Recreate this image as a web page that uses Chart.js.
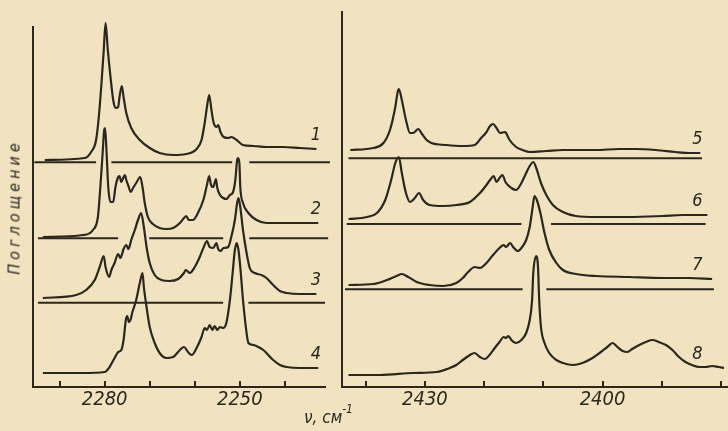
<!DOCTYPE html>
<html>
<head>
<meta charset="utf-8">
<script src="https://cdn.jsdelivr.net/npm/chart.js@4.4.1/dist/chart.umd.min.js"></script>
<style>
  body { margin: 0; background: #f1e3bf; }
  #wrap { position: relative; width: 728px; height: 431px; overflow: hidden; background: #f1e3bf; }
  canvas { position: absolute; top: 0; }
  #left { left: 0; }
  #right { left: 330px; }
  .axtitle { position: absolute; color: #2a2824; font-family: 'DejaVu Sans Condensed', 'Liberation Sans Narrow', 'DejaVu Sans', sans-serif; font-style: italic; white-space: nowrap; }
  #ytitle { left: 14px; top: 207px; font-size: 16px; letter-spacing: 4px; transform: translate(-50%, -50%) rotate(-90deg); }
  #xtitle { left: 304px; top: 405px; font-size: 17px; }
  #xtitle sup { font-size: 12px; position: relative; top: -3px; }
</style>
</head>
<body>
<div id="wrap">
  <canvas id="left" width="340" height="431"></canvas>
  <canvas id="right" width="398" height="431"></canvas>
  <div id="ytitle" class="axtitle">Поглощение</div>
  <div id="xtitle" class="axtitle">ν, см<sup>-1</sup></div>
</div>
<script>
// волновое число (см-1), поглощение (отн. ед., со сдвигом по вертикали)
var spec1 = [[2293.3,227],[2284.4,229],[2283.0,235],[2281.9,247],[2281.3,270],[2280.7,304],[2280.2,337],[2279.8,364],[2279.3,337],[2278.7,310],[2278.1,287],[2277.6,279],[2277.0,280],[2276.7,290],[2276.2,301],[2275.8,290],[2275.2,274],[2274.1,259],[2272.2,247],[2270.0,239],[2267.8,234],[2264.8,232],[2261.9,233],[2259.6,238],[2258.5,247],[2257.8,264],[2257.3,280],[2256.8,292],[2256.3,277],[2255.8,264],[2255.2,260],[2254.8,262],[2254.3,255],[2253.6,250],[2252.6,249],[2251.9,250],[2250.7,247],[2249.3,242],[2247.0,241],[2244.1,240],[2240.4,240],[2236.7,239],[2233.0,238]];
var spec2 = [[2293.7,150],[2284.8,152],[2282.6,157],[2281.5,170],[2281.0,197],[2280.5,230],[2280.1,257],[2279.9,259],[2279.6,237],[2279.2,200],[2278.7,185],[2278.1,185],[2277.6,200],[2277.0,210],[2276.7,211],[2276.3,205],[2275.8,210],[2275.5,212],[2275.2,207],[2274.8,202],[2274.2,195],[2273.7,199],[2273.0,204],[2272.1,210],[2271.6,200],[2271.1,184],[2270.4,170],[2269.3,163],[2267.8,159],[2266.3,158],[2264.8,159],[2263.3,164],[2262.4,169],[2261.9,171],[2261.3,167],[2260.4,167],[2259.3,174],[2258.1,187],[2257.3,202],[2256.8,211],[2256.4,202],[2255.9,200],[2255.3,208],[2255.0,199],[2254.4,192],[2253.7,189],[2253.0,188],[2252.2,192],[2251.5,195],[2251.0,207],[2250.6,227],[2250.4,229],[2250.1,224],[2249.9,200],[2249.3,184],[2248.1,174],[2246.3,167],[2244.1,164],[2240.4,164],[2236.7,164],[2232.6,164]];
var spec3 = [[2293.7,89],[2286.3,92],[2284.1,97],[2282.2,107],[2281.1,120],[2280.2,131],[2279.8,120],[2279.0,110],[2278.5,117],[2277.8,124],[2277.0,133],[2276.5,129],[2275.8,138],[2275.2,142],[2274.7,138],[2274.1,147],[2273.3,157],[2272.6,167],[2271.9,174],[2271.3,160],[2270.7,140],[2270.0,124],[2268.9,112],[2267.4,107],[2265.6,106],[2263.7,108],[2262.4,114],[2262.0,117],[2261.1,114],[2260.0,120],[2258.9,130],[2258.0,140],[2257.3,146],[2256.7,140],[2255.9,139],[2255.2,144],[2254.8,138],[2254.3,136],[2253.6,139],[2252.6,140],[2251.9,150],[2251.1,167],[2250.6,184],[2250.3,189],[2249.9,180],[2249.3,157],[2248.5,134],[2247.8,119],[2246.7,114],[2245.2,112],[2244.1,109],[2242.6,102],[2241.1,96],[2239.6,94],[2236.7,93],[2233.0,93]];
var spec4 = [[2293.7,14],[2284.8,14],[2280.0,15],[2278.9,20],[2277.8,29],[2277.0,35],[2276.3,37],[2275.8,47],[2275.3,67],[2275.0,71],[2274.6,65],[2274.2,68],[2273.9,74],[2273.0,87],[2272.2,104],[2271.6,114],[2271.3,100],[2270.7,80],[2270.0,60],[2268.9,44],[2267.8,34],[2266.3,29],[2264.8,30],[2263.3,37],[2262.4,40],[2261.5,35],[2260.7,32],[2259.6,39],[2258.5,50],[2257.8,59],[2257.3,57],[2256.7,62],[2256.1,57],[2255.6,61],[2255.0,57],[2254.4,60],[2253.7,59],[2253.0,64],[2252.2,87],[2251.6,114],[2251.1,137],[2250.7,144],[2250.3,137],[2249.9,120],[2249.3,87],[2248.5,54],[2248.1,44],[2247.0,42],[2245.9,40],[2244.8,37],[2244.1,34],[2242.6,27],[2241.1,22],[2239.6,20],[2236.7,19],[2232.6,19]];

var spec5 = [[2442.6,237],[2438.7,239],[2437.0,244],[2435.9,257],[2435.0,280],[2434.6,295],[2434.4,298],[2433.9,287],[2433.2,267],[2432.5,254],[2432.0,254],[2431.1,258],[2430.6,254],[2429.7,247],[2428.9,244],[2426.4,242],[2423.6,241],[2421.6,242],[2420.5,249],[2419.6,255],[2419.0,261],[2418.5,263],[2417.9,259],[2417.3,254],[2416.5,255],[2416.3,254],[2415.7,247],[2414.6,240],[2413.5,237],[2412.3,235],[2409.5,236],[2406.7,237],[2401.1,237],[2397.2,238],[2394.4,238],[2391.0,237],[2387.7,235],[2385.4,234],[2383.5,234]];
var spec6 = [[2442.9,168],[2439.8,170],[2438.1,174],[2436.7,187],[2435.7,207],[2435.0,224],[2434.4,230],[2433.9,214],[2433.2,194],[2432.5,185],[2431.7,189],[2431.0,194],[2430.3,187],[2429.2,182],[2426.9,181],[2424.7,182],[2422.4,185],[2420.7,194],[2419.6,202],[2419.0,207],[2418.4,211],[2417.9,205],[2417.4,209],[2416.9,212],[2416.4,205],[2415.4,199],[2414.6,197],[2413.7,204],[2412.9,214],[2412.2,222],[2411.7,225],[2411.2,219],[2410.4,204],[2409.5,192],[2408.4,182],[2406.7,175],[2404.5,171],[2401.1,170],[2395.5,170],[2389.9,171],[2386.5,172],[2382.3,172]];
var spec7 = [[2442.9,102],[2438.7,103],[2436.4,107],[2434.8,111],[2433.9,113],[2432.8,110],[2431.4,105],[2429.2,102],[2426.9,101],[2424.7,104],[2423.6,109],[2422.7,115],[2421.6,120],[2420.7,119],[2419.6,124],[2418.5,132],[2417.4,139],[2416.7,142],[2416.3,140],[2415.6,144],[2415.1,140],[2414.3,136],[2413.7,139],[2412.9,147],[2412.3,160],[2411.8,180],[2411.5,191],[2411.1,187],[2410.5,174],[2409.8,154],[2409.0,137],[2407.8,124],[2406.7,117],[2404.5,113],[2401.1,111],[2395.5,110],[2389.9,109],[2385.4,109],[2381.5,108]];
var spec8 = [[2442.9,12],[2437.6,12],[2432.0,14],[2428.0,15],[2425.8,19],[2424.7,22],[2423.6,27],[2422.4,32],[2421.6,34],[2420.7,30],[2419.9,28],[2419.1,32],[2418.2,39],[2417.4,45],[2416.7,50],[2416.3,49],[2415.9,51],[2415.4,47],[2414.6,44],[2413.7,47],[2412.9,54],[2412.3,67],[2411.9,87],[2411.7,114],[2411.2,131],[2410.9,120],[2410.7,87],[2410.4,60],[2409.8,44],[2409.0,34],[2407.8,27],[2406.7,24],[2405.0,22],[2403.4,24],[2401.7,29],[2400.3,35],[2399.2,40],[2398.3,44],[2397.5,40],[2396.6,36],[2395.8,35],[2395.0,38],[2393.8,42],[2392.7,45],[2391.6,47],[2390.5,45],[2389.3,42],[2388.2,37],[2387.1,30],[2386.0,25],[2384.9,22],[2383.7,20],[2382.6,20],[2381.5,21],[2380.4,20],[2379.5,19]];

// нулевые линии: уровень и отрезки (от, до) с разрывами
var base1 = { level: 224.7, parts: [[2295.6,2281.9],[2278.5,2251.7],[2247.9,2230.0]] };
var base2 = { level: 148.7, parts: [[2294.8,2277.0],[2270.1,2253.7],[2247.9,2230.4]] };
var base3 = { level: 84.3,  parts: [[2294.8,2253.7],[2248.1,2231.1]] };
var base5 = { level: 228.7, parts: [[2442.9,2383.2]] };
var base6 = { level: 163.0, parts: [[2443.2,2413.7],[2408.7,2382.6]] };
var base7 = { level: 97.7,  parts: [[2443.5,2413.5],[2409.5,2381.2]] };

var leftRange = [2231.1, 2295.9];
var rightRange = [2379.0, 2444.0];
var leftLabels = [2280, 2250];
var rightLabels = [2430, 2400];

var ink = '#29271f';
var fontFam = "'DejaVu Sans Condensed', 'Liberation Sans Narrow', 'DejaVu Sans', sans-serif";

function toPoints(arr) {
  return arr.map(function (p) { return { x: p[0], y: p[1] }; });
}

function baseline(b) {
  var pts = [];
  b.parts.forEach(function (seg, i) {
    if (i > 0) pts.push({ x: (b.parts[i - 1][1] + seg[0]) / 2, y: null });
    pts.push({ x: seg[0], y: b.level });
    pts.push({ x: seg[1], y: b.level });
  });
  return pts;
}

function specSet(arr, tag) {
  return {
    data: toPoints(arr),
    tag: tag,
    borderColor: ink,
    borderWidth: 2.2,
    cubicInterpolationMode: 'monotone',
    pointRadius: 0,
    fill: false,
    clip: false
  };
}

function baseSet(b) {
  return {
    data: baseline(b),
    borderColor: ink,
    borderWidth: 2,
    tension: 0,
    pointRadius: 0,
    spanGaps: false,
    fill: false,
    clip: false
  };
}

// номера спектров над правым концом кривой
var tagPlugin = {
  id: 'tags',
  afterDatasetsDraw: function (chart, args, opts) {
    var ctx = chart.ctx;
    var xs = chart.scales.x, ys = chart.scales.y;
    ctx.save();
    ctx.font = 'italic 18px ' + fontFam;
    ctx.fillStyle = ink;
    ctx.textAlign = 'center';
    chart.data.datasets.forEach(function (ds) {
      if (!ds.tag) return;
      var last = ds.data[ds.data.length - 1];
      ctx.fillText(ds.tag, xs.getPixelForValue(opts.at), ys.getPixelForValue(last.y) - 9);
    });
    ctx.restore();
  }
};

function makePanel(canvas, datasets, range, labels, yMax, pad, yWidth, tagAt) {
  return new Chart(canvas.getContext('2d'), {
    type: 'line',
    data: { datasets: datasets },
    plugins: [tagPlugin],
    options: {
      responsive: false,
      animation: false,
      events: [],
      layout: { padding: pad },
      plugins: { legend: { display: false }, tooltip: { enabled: false }, tags: { at: tagAt } },
      scales: {
        x: {
          type: 'linear',
          reverse: true,
          min: range[0],
          max: range[1],
          afterFit: function (s) { s.height = 44; },
          border: { display: true, color: ink, width: 2 },
          grid: { display: true, drawOnChartArea: false, drawTicks: true, tickLength: -6, color: ink, lineWidth: 2 },
          ticks: {
            stepSize: 10,
            includeBounds: false,
            autoSkip: false,
            maxRotation: 0,
            padding: 7,
            color: ink,
            font: { family: fontFam, size: 20, style: 'italic' },
            callback: function (v) { return labels.indexOf(v) >= 0 ? String(v) : ''; }
          }
        },
        y: {
          min: 0,
          max: yMax,
          afterFit: function (s) { s.width = yWidth; },
          border: { display: true, color: ink, width: 2 },
          grid: { display: false },
          ticks: { display: false }
        }
      }
    }
  });
}

makePanel(document.getElementById('left'),
  [specSet(spec1, '1'), baseSet(base1), specSet(spec2, '2'), baseSet(base2),
   specSet(spec3, '3'), baseSet(base3), specSet(spec4, '4')],
  leftRange, leftLabels, 360, { left: 0, right: 15, top: 27, bottom: 0 }, 33, 2233.1);

makePanel(document.getElementById('right'),
  [specSet(spec5, '5'), baseSet(base5), specSet(spec6, '6'), baseSet(base6),
   specSet(spec7, '7'), baseSet(base7), specSet(spec8, '8')],
  rightRange, rightLabels, 375, { left: 0, right: 0, top: 12, bottom: 0 }, 12, 2384.0);
</script>
</body>
</html>
